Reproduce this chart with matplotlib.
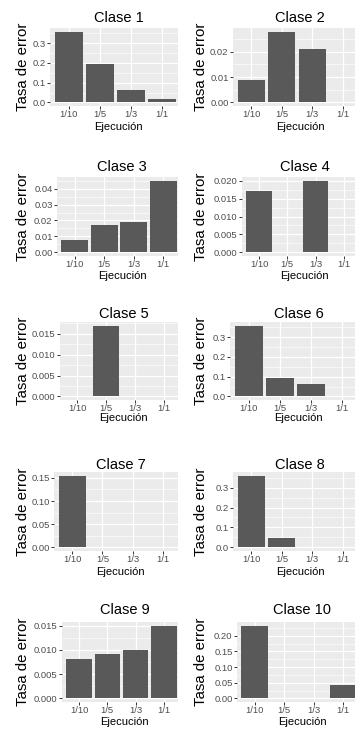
import matplotlib.pyplot as plt
import numpy as np
from matplotlib.ticker import MultipleLocator, FormatStrFormatter

# data
ejecucion = ['1/10', '1/5', '1/3', '1/1']
clase_1 = [0.359, 0.195, 0.064, 0.017]
clase_2 = [0.009, 0.028, 0.021, 0.0]
clase_3 = [0.008, 0.017, 0.019, 0.045]
clase_4 = [0.017, 0.0, 0.020, 0.0]
clase_5 = [0.0, 0.017, 0.0, 0.0]
clase_6 = [0.359, 0.093, 0.064, 0.0]
clase_7 = [0.155, 0.0, 0.0, 0.0]
clase_8 = [0.360, 0.047, 0.0, 0.0]
clase_9 = [0.0081, 0.0091, 0.0099, 0.015]
clase_10 = [0.232, 0.0, 0.0, 0.044]
clases = [clase_1, clase_2, clase_3, clase_4, clase_5,
          clase_6, clase_7, clase_8, clase_9, clase_10]
titulos = ['Clase %d' % (i + 1) for i in range(10)]
ytick_steps = [0.1, 0.01, 0.01, 0.005, 0.005, 0.1, 0.05, 0.1, 0.005, 0.05]
ytick_decimals = [1, 2, 2, 3, 3, 1, 2, 1, 3, 2]

# layout in pixels (figure is 355 x 729)
W, H = 355, 729
row_tops = [28, 177, 322, 472, 622]
row_bottoms = [106, 256, 400, 551, 702]
title_y = [18, 167, 314, 465, 610]
xlabel_y = [127, 276, 418, 572, 722]
panel_lefts = [50, 233, 57, 242, 60, 230, 54, 233, 62, 237]
col_right = [181, 361]     # where the ggplot panel would end
col_clip = [178, 355]      # where the picture is cut
ylabel_x = [23, 201]

BG = '#EBEBEB'
BAR = '#595959'

plt.rcParams['font.family'] = ['Liberation Sans', 'DejaVu Sans']
fig = plt.figure(figsize=(W / 100, H / 100), dpi=100)
fig.patch.set_facecolor('white')

x = np.arange(1, 5)
for i, vals in enumerate(clases):
    row, col = divmod(i, 2)
    l = panel_lefts[i]
    t, b = row_tops[row], row_bottoms[row]
    vr, clip = col_right[col], col_clip[col]
    ax = fig.add_axes([l / W, 1 - b / H, (clip - l) / W, (b - t) / H])
    ax.set_facecolor(BG)
    ax.bar(x, vals, width=0.9, color=BAR, zorder=3)

    ymax = max(vals)
    ax.set_ylim(-0.05 * ymax, 1.05 * ymax)
    ax.set_xlim(0.4, 0.4 + 4.2 * (clip - l) / (vr - l))

    step = ytick_steps[i]
    ax.yaxis.set_major_locator(MultipleLocator(step))
    ax.yaxis.set_minor_locator(MultipleLocator(step / 2))
    ax.yaxis.set_major_formatter(FormatStrFormatter('%%.%df' % ytick_decimals[i]))
    ax.set_xticks(x)
    ax.set_xticklabels(ejecucion)

    ax.set_axisbelow(True)
    ax.grid(which='major', color='white', linewidth=0.9)
    ax.grid(which='minor', axis='y', color='white', linewidth=0.45)
    ax.tick_params(which='major', length=2.0, width=0.7, color='#333333',
                   labelsize=6.8, labelcolor='#4D4D4D', pad=1.2)
    ax.tick_params(which='minor', length=0)
    for s in ax.spines.values():
        s.set_visible(False)

    cx = (l + vr) / 2 + 3
    fig.text(cx / W, 1 - title_y[row] / H, titulos[i], ha='center', va='center',
             fontsize=10.5, color='black')
    fig.text(cx / W, 1 - xlabel_y[row] / H, 'Ejecución', ha='center', va='center',
             fontsize=8, color='black')
    fig.text(ylabel_x[col] / W, 1 - (t + b) / 2 / H, 'Tasa de error', rotation=90,
             ha='center', va='center', fontsize=10.8, color='black')

fig.savefig('out.png', dpi=100, facecolor='white')
